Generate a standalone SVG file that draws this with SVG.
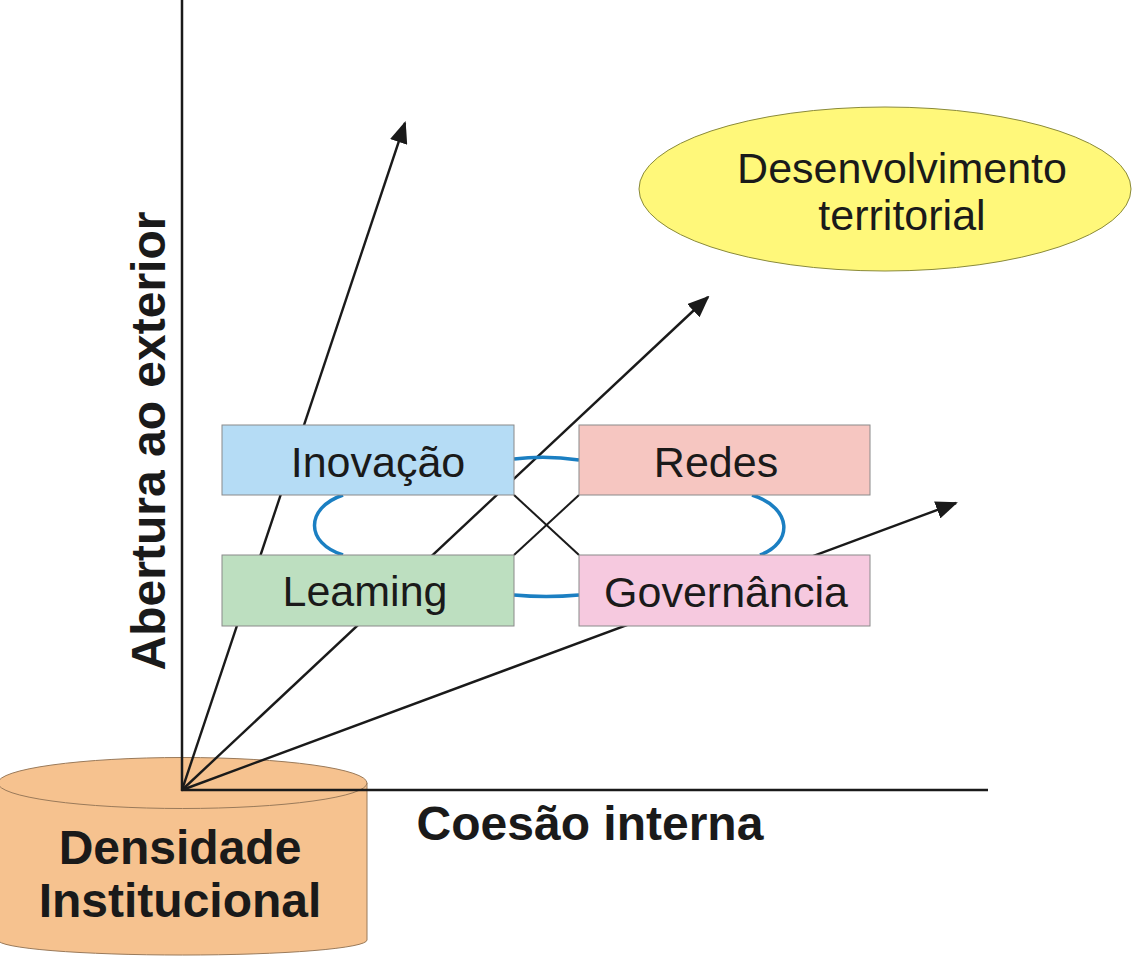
<svg xmlns="http://www.w3.org/2000/svg" width="1136" height="960" viewBox="0 0 1136 960">
<style>
.lbl{font-family:"Liberation Sans",Arial,sans-serif;font-size:43px;fill:#1a1a1a;text-anchor:middle}
.bold{font-family:"Liberation Sans",Arial,sans-serif;font-size:48px;font-weight:bold;fill:#1a1a1a;text-anchor:middle}
.box{stroke:#8a8a8a;stroke-width:1}
.ax{stroke:#1a1a1a;stroke-width:2.5;fill:none}
.arr{stroke:#1a1a1a;stroke-width:2.4;fill:none;marker-end:url(#ah)}
.thin{stroke:#1a1a1a;stroke-width:2;fill:none}
.blue{stroke:#1b7fc2;stroke-width:3.5;fill:none}
</style>
<defs>
<marker id="ah" viewBox="0 0 22 18" refX="20" refY="9" markerWidth="22" markerHeight="18" markerUnits="userSpaceOnUse" orient="auto">
<path d="M0,0 L22,9 L0,18 Z" fill="#1a1a1a"/>
</marker>
</defs>
<rect width="1136" height="960" fill="#ffffff"/>
<g id="densidade">
<path d="M-2,783 L-2,940 A184,15 0 0 0 367,940 L367,783 Z" fill="#f6c28f" stroke="#9a7a5a" stroke-width="1"/>
<ellipse cx="182.5" cy="783" rx="184.5" ry="25.5" fill="#f6c28f" stroke="#9a7a5a" stroke-width="1"/>
<text class="bold" x="180" y="864">Densidade</text>
<text class="bold" x="180" y="917">Institucional</text>
</g>
<g id="connectors">
<line class="ax" x1="182" y1="0" x2="182" y2="791"/>
<line class="ax" x1="181" y1="790" x2="988" y2="790"/>
<line class="arr" x1="182" y1="790" x2="405" y2="123"/>
<line class="arr" x1="182" y1="790" x2="708" y2="297"/>
<line class="arr" x1="182" y1="790" x2="956" y2="503"/>
<line class="thin" x1="514" y1="495" x2="579" y2="555"/>
<line class="thin" x1="579" y1="495" x2="514" y2="555"/>
<path class="blue" d="M514,459 Q546,455 579,460"/>
<path class="blue" d="M514,595 Q546,598 579,595"/>
<path class="blue" d="M343,495 C305,508 305,543 343,555"/>
<path class="blue" d="M752,495 C793,508 793,543 760,555"/>
</g>
<g id="inovacao">
<rect class="box" x="222" y="425" width="292" height="70" fill="#b5dcf5"/>
<text class="lbl" x="378" y="477">Inovação</text>
</g>
<g id="redes">
<rect class="box" x="579" y="425" width="291" height="70" fill="#f6c6c1"/>
<text class="lbl" x="716" y="477">Redes</text>
</g>
<g id="leaming">
<rect class="box" x="222" y="555" width="292" height="71" fill="#bddfc0"/>
<text class="lbl" x="365" y="606">Leaming</text>
</g>
<g id="governancia">
<rect class="box" x="579" y="555" width="291" height="71" fill="#f6c9df"/>
<text class="lbl" x="726" y="607">Governância</text>
</g>
<g id="desenvolvimento">
<ellipse cx="885" cy="189" rx="246" ry="82" fill="#fff87a" stroke="#8a8a3a" stroke-width="1"/>
<text class="lbl" x="902" y="183">Desenvolvimento</text>
<text class="lbl" x="902" y="230">territorial</text>
</g>
<g id="axis-labels">
<text class="bold" x="590" y="840">Coesão interna</text>
<text class="bold" transform="translate(165,441) rotate(-90)" x="0" y="0">Abertura ao exterior</text>
</g>
</svg>
